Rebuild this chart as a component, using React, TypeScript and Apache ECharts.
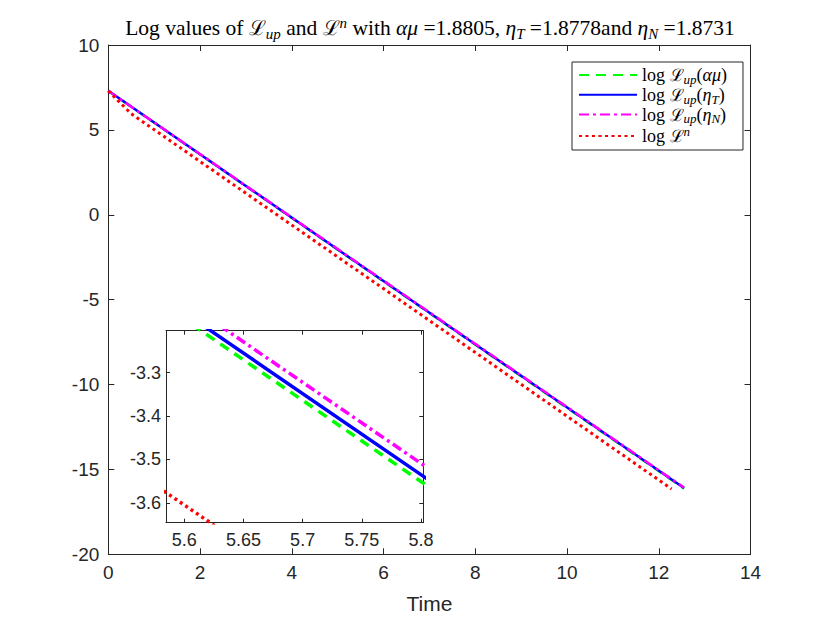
import React, { useEffect, useRef } from "react";
import * as echarts from "echarts";

// ---- data ----
const timeUp = [0, 5.58, 5.8, 12.55];
const logLupAlphaMu = [7.3, -3.139, -3.551, -16.13];
const logLupEtaT = [7.3, -3.124, -3.535, -16.1];
const logLupEtaN = [7.3, -3.098, -3.509, -16.07];
const timeN = [0, 0.2, 0.5, 5.58, 5.8, 12.28];
const logLn = [7.3, 6.75, 5.95, -3.568, -3.977, -16.15];

const seriesNames = ["log ℒup(αμ)", "log ℒup(ηT)", "log ℒup(ηN)", "log ℒn"];
const seriesColors = ["#00ff00", "#0000ff", "#ff00ff", "#ff0000"];

const mainXRange = [0, 14];
const mainXStep = 2;
const mainYRange = [-20, 10];
const mainYStep = 5;
const insetXRange = [5.5845, 5.802];
const insetYRange = [-3.646, -3.203];
const insetXTicks = [5.6, 5.65, 5.7, 5.75, 5.8];
const insetYTicks = [-3.6, -3.5, -3.4, -3.3];

const serif = "'Liberation Serif', 'DejaVu Serif', serif";
const sans = "'Liberation Sans', Arial, Helvetica, sans-serif";
const axisColor = "#262626";

function makeRich(fs: number, lh: number) {
  const sfs = Math.round(fs * 0.7);
  return {
    n: { fontFamily: serif, fontSize: fs, lineHeight: lh, color: "#000" },
    i: { fontFamily: serif, fontSize: fs, lineHeight: lh, fontStyle: "italic", color: "#000" },
    L: { fontFamily: "'DejaVu Serif', serif", fontSize: fs - 1, lineHeight: lh, color: "#000" },
    sub: { fontFamily: serif, fontSize: sfs, lineHeight: Math.round(lh * 0.62), verticalAlign: "bottom", fontStyle: "italic", color: "#000" },
    sup: { fontFamily: serif, fontSize: sfs, lineHeight: Math.round(lh * 0.42), verticalAlign: "top", fontStyle: "italic", color: "#000" },
  };
}

const legendRich: Record<string, string> = {
  "log ℒup(αμ)": "{n|log }{L|ℒ}{sub|up}{n|(}{i|αμ}{n|)}",
  "log ℒup(ηT)": "{n|log }{L|ℒ}{sub|up}{n|(}{i|η}{sub|T}{n|)}",
  "log ℒup(ηN)": "{n|log }{L|ℒ}{sub|up}{n|(}{i|η}{sub|N}{n|)}",
  "log ℒn": "{n|log }{L|ℒ}{sup|n}",
};

const titleText =
  "{n|Log values of }{L|ℒ}{sub|up}{n| and }{L|ℒ}{sup|n}{n| with }{i|αμ}{n| =1.8805, }{i|η}{sub|T}{n| =1.8778and }{i|η}{sub|N}{n| =1.8731}";

const dashes: any[] = [[10, 7], "solid", [10, 4, 3, 4], [3, 3.5]];

function pairs(xs: number[], ys: number[]) {
  return xs.map((x, k) => [x, ys[k]]);
}

export default function App() {
  const ref = useRef<HTMLDivElement>(null);
  useEffect(() => {
    if (!ref.current) return;
    const chart = echarts.init(ref.current, undefined, { renderer: "svg" });
    const seriesData = [
      pairs(timeUp, logLupAlphaMu),
      pairs(timeUp, logLupEtaT),
      pairs(timeUp, logLupEtaN),
      pairs(timeN, logLn),
    ];
    const axisLine = { show: true, onZero: false, lineStyle: { color: axisColor, width: 1 } };
    const label = { color: axisColor, fontSize: 19, fontFamily: sans };
    const fmt2 = (v: number) => String(+v.toFixed(2));

    const mainSeries = seriesData.map((d, k) => ({
      name: seriesNames[k],
      type: "line",
      xAxisIndex: 0,
      yAxisIndex: 0,
      data: d,
      symbol: "none",
      showSymbol: false,
      z: 2,
      lineStyle: { color: seriesColors[k], width: k === 3 ? 3 : 2.5, type: dashes[k] },
      itemStyle: { color: seriesColors[k] },
    }));
    const insetSeries = seriesData.map((d, k) => ({
      name: seriesNames[k],
      type: "line",
      xAxisIndex: 2,
      yAxisIndex: 2,
      data: d,
      symbol: "none",
      showSymbol: false,
      clip: true,
      z: 8,
      lineStyle: { color: seriesColors[k], width: 3.5, type: dashes[k] },
      itemStyle: { color: seriesColors[k] },
    }));

    chart.setOption({
      animation: false,
      backgroundColor: "#fff",
      graphic: [
        {
          type: "text",
          x: 430,
          y: 28,
          z: 20,
          style: { text: titleText, rich: makeRich(21.5, 26), align: "center", verticalAlign: "middle" },
        },
      ],
      legend: {
        data: seriesNames,
        orient: "vertical",
        left: 572,
        top: 62,
        padding: [4, 16, 5, 6],
        itemGap: 0,
        itemWidth: 58,
        itemHeight: 14,
        borderColor: axisColor,
        borderWidth: 1,
        backgroundColor: "#fff",
        itemStyle: { opacity: 0, color: "transparent", borderWidth: 0 },
        formatter: (name: string) => legendRich[name] || name,
        textStyle: { rich: makeRich(18, 21.5) },
        z: 20,
      },
      grid: [
        { left: 108.3, top: 45, right: 79.5, bottom: 68.7, containLabel: false },
        {
          left: 166,
          top: 330.7,
          width: 257.3,
          height: 192,
          show: true,
          backgroundColor: "#fff",
          borderWidth: 0,
          z: 5,
        },
      ],
      xAxis: [
        {
          type: "value",
          gridIndex: 0,
          min: mainXRange[0],
          max: mainXRange[1],
          interval: mainXStep,
          position: "bottom",
          axisLine,
          axisTick: { inside: true, length: 6, lineStyle: { color: axisColor } },
          axisLabel: { ...label, margin: 9 },
          splitLine: { show: false },
          name: "Time",
          nameLocation: "middle",
          nameGap: 39,
          nameTextStyle: { color: axisColor, fontSize: 21, fontFamily: sans },
        },
        {
          type: "value",
          gridIndex: 0,
          min: mainXRange[0],
          max: mainXRange[1],
          interval: mainXStep,
          position: "top",
          axisLine,
          axisTick: { inside: true, length: 6, lineStyle: { color: axisColor } },
          axisLabel: { show: false },
          splitLine: { show: false },
        },
        {
          type: "value",
          gridIndex: 1,
          min: insetXRange[0],
          max: insetXRange[1],
          position: "bottom",
          z: 6,
          axisLine,
          axisTick: { inside: true, length: 4, customValues: insetXTicks, lineStyle: { color: axisColor } },
          axisLabel: { ...label, fontSize: 18, margin: 8, customValues: insetXTicks, formatter: fmt2 },
          splitLine: { show: false },
        },
        {
          type: "value",
          gridIndex: 1,
          min: insetXRange[0],
          max: insetXRange[1],
          position: "top",
          z: 6,
          axisLine,
          axisTick: { inside: true, length: 4, customValues: insetXTicks, lineStyle: { color: axisColor } },
          axisLabel: { show: false },
          splitLine: { show: false },
        },
      ],
      yAxis: [
        {
          type: "value",
          gridIndex: 0,
          min: mainYRange[0],
          max: mainYRange[1],
          interval: mainYStep,
          position: "left",
          axisLine,
          axisTick: { inside: true, length: 6, lineStyle: { color: axisColor } },
          axisLabel: { ...label, margin: 9 },
          splitLine: { show: false },
        },
        {
          type: "value",
          gridIndex: 0,
          min: mainYRange[0],
          max: mainYRange[1],
          interval: mainYStep,
          position: "right",
          axisLine,
          axisTick: { inside: true, length: 6, lineStyle: { color: axisColor } },
          axisLabel: { show: false },
          splitLine: { show: false },
        },
        {
          type: "value",
          gridIndex: 1,
          min: insetYRange[0],
          max: insetYRange[1],
          position: "left",
          z: 6,
          axisLine,
          axisTick: { inside: true, length: 4, customValues: insetYTicks, lineStyle: { color: axisColor } },
          axisLabel: { ...label, fontSize: 18, margin: 5, customValues: insetYTicks, formatter: fmt2 },
          splitLine: { show: false },
        },
        {
          type: "value",
          gridIndex: 1,
          min: insetYRange[0],
          max: insetYRange[1],
          position: "right",
          z: 6,
          axisLine,
          axisTick: { inside: true, length: 4, customValues: insetYTicks, lineStyle: { color: axisColor } },
          axisLabel: { show: false },
          splitLine: { show: false },
        },
      ],
      series: [...mainSeries, ...insetSeries],
    });
    return () => chart.dispose();
  }, []);
  return (
    <div
      ref={ref}
      style={{ position: "fixed", left: 0, top: 0, width: 830, height: 623, background: "#fff" }}
    />
  );
}
